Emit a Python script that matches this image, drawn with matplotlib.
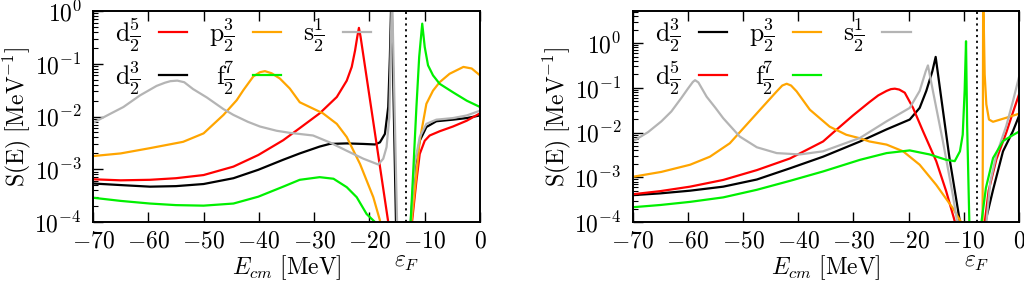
import numpy as np
import matplotlib
matplotlib.use('Agg')
import matplotlib.pyplot as plt
import matplotlib.transforms as mtrans
from matplotlib.ticker import LogLocator, NullFormatter

plt.rcParams['mathtext.fontset'] = 'cm'
plt.rcParams['font.family'] = 'serif'
plt.rcParams['font.serif'] = ['cmr10', 'DejaVu Serif']
plt.rcParams['axes.formatter.use_mathtext'] = True

# ---------------- data (energies in MeV, values given as log10 S(E) in MeV^-1) ----------------
# Left panel
eF_left = -13.3
L_E_d52 = [-70, -65, -59.7, -55, -50, -44.6, -40.1, -35.6, -32.6, -29.0, -25.9, -24.1, -23.2, -22.6, -22.2, -21.9,
           -21.6, -16.6, -16.3, -12.5, -12.3, -11.5, -10.9, -10.0, -9.1, -7.3, -4.9, -2.4, 0]
L_lg_d52 = [-3.19, -3.21, -3.20, -3.17, -3.11, -2.95, -2.73, -2.45, -2.22, -1.94, -1.63, -1.32, -1.06, -0.75, -0.49, -0.32,
            -0.49, -4.0, -5, -5, -4.0, -3.22, -2.71, -2.46, -2.36, -2.28, -2.19, -2.08, -1.94]

L_E_d32 = [-70, -65, -59.7, -55, -50, -44.6, -40.1, -35.6, -32.6, -29.0, -27.2, -24.1, -21.1, -19.0, -18.1, -17.2,
           -16.6, -16.3, -16.1, -16.0, -15.2, -15.0, -12.7, -12.5, -11.8, -10.9, -9.7, -7.9, -4.9, -2.4, 0]
L_lg_d32 = [-3.27, -3.30, -3.33, -3.32, -3.28, -3.17, -3.01, -2.82, -2.70, -2.57, -2.52, -2.51, -2.52, -2.53, -2.49, -2.33,
            -1.82, -0.87, 0.0, 0.3, -4.0, -5, -5, -4.0, -2.96, -2.46, -2.20, -2.09, -2.06, -2.03, -1.98]

L_E_s12 = [-70, -66.9, -64.5, -61.5, -58.5, -57, -56, -54.75, -53.5, -51.9, -49.4, -46.4, -44.6, -42, -39.8, -36.8,
           -34.4, -30.2, -27.2, -24.1, -21.1, -18.4, -17.5, -16.9, -16.4, -16.0, -15.9, -15.0, -14.8, -12.75, -12.55,
           -11.8, -10.9, -9.7, -7.9, -4.9, -2.4, 0]
L_lg_s12 = [-2.12, -1.95, -1.82, -1.60, -1.42, -1.36, -1.33, -1.32, -1.35, -1.48, -1.64, -1.86, -1.97, -2.10, -2.19, -2.27,
            -2.31, -2.36, -2.49, -2.65, -2.80, -2.91, -2.80, -2.58, -2.01, 0.0, 0.3, -4.0, -5, -5, -4.0,
            -2.90, -2.39, -2.14, -2.06, -2.03, -1.98, -1.89]

L_E_p32 = [-70, -65, -59.7, -53.7, -50, -46.4, -44.0, -42.8, -41.0, -39.8, -38.9, -37.7, -36.2, -34.4, -32.6, -30.2,
           -28.4, -25.9, -24.1, -21.7, -19.3, -18.1, -17.8, -12.6, -12.4, -11.5, -10.9, -9.7, -8.5, -7.3, -5.5,
           -3.0, -1.5, 0]
L_lg_p32 = [-2.75, -2.70, -2.60, -2.48, -2.32, -1.97, -1.69, -1.50, -1.24, -1.16, -1.14, -1.18, -1.28, -1.47, -1.73, -1.85,
            -1.94, -2.14, -2.39, -2.90, -3.53, -3.97, -5, -5, -4.0, -3.09, -2.46, -1.76, -1.51, -1.35, -1.19,
            -1.06, -1.09, -1.22]

L_E_f72 = [-70, -65, -59.7, -55, -50, -44.6, -40.1, -35.6, -32.6, -29.0, -26.5, -24.1, -22.3, -20.5, -19.0, -18.7,
           -12.8, -12.55, -12.1, -11.5, -11.0, -10.45, -10.0, -9.4, -8.5, -7.3, -4.9, -2.4, 0]
L_lg_f72 = [-3.54, -3.60, -3.65, -3.68, -3.69, -3.65, -3.52, -3.33, -3.20, -3.15, -3.18, -3.34, -3.53, -3.85, -4.0, -5,
            -5, -4.0, -3.09, -1.82, -0.87, -0.24, -0.68, -1.03, -1.22, -1.38, -1.54, -1.70, -1.82]

# Right panel
eF_right = -7.6
R_E_d32 = [-70, -65, -59.6, -53.6, -47.5, -41.5, -35.5, -28.8, -24, -19.8, -18, -16.8, -15.7, -15.1, -14.1, -12.6,
           -10.7, -10.5, -6.3, -6.1, -4.7, -2.9, -1.1, 0]
R_lg_d32 = [-3.40, -3.36, -3.30, -3.21, -3.05, -2.80, -2.54, -2.20, -1.93, -1.71, -1.45, -1.07, -0.63, -0.31, -1.22, -2.57,
            -4.0, -5, -5, -4.0, -3.28, -2.42, -1.97, -1.63]

R_E_d52 = [-70, -65, -59.6, -53.6, -47.5, -41.5, -35.5, -33.1, -30.1, -28.8, -27.1, -25.5, -24, -23.2, -22.5, -21.7,
           -20.7, -19.2, -17.4, -15, -13.2, -11.6, -11.4, -6.4, -6.2, -5.5, -4.1, -2.3, -1.1, 0]
R_lg_d52 = [-3.38, -3.31, -3.21, -3.06, -2.84, -2.58, -2.20, -1.94, -1.62, -1.49, -1.32, -1.17, -1.07, -1.03, -1.02, -1.04,
            -1.11, -1.45, -1.97, -2.64, -3.31, -4.0, -5, -5, -4.0, -3.3, -2.6, -2.0, -1.55, -1.15]

R_E_p32 = [-70, -64.8, -59.6, -56.0, -52.4, -49.4, -46.4, -43.9, -42.9, -42.1, -41.3, -40.3, -37.9, -34.3, -31.3,
           -28.8, -27.1, -24, -21, -18, -15, -12, -10.5, -10.3, -6.75, -6.6, -6.55, -6.5, -6.45, -6.22, -5.92,
           -5.44, -4.71, -2.3, 0]
R_lg_p32 = [-2.99, -2.88, -2.72, -2.54, -2.24, -1.83, -1.42, -1.08, -0.95, -0.91, -0.95, -1.08, -1.49, -1.87, -2.05,
            -2.13, -2.20, -2.27, -2.42, -2.72, -3.17, -3.69, -4.0, -5, -5, -4.0, -2.0, 0.9, 0.9, -0.70, -1.37,
            -1.71, -1.76, -1.67, -1.58]

R_E_f72 = [-70, -65, -59.6, -53.6, -47.5, -41.5, -35.5, -28.8, -24, -19.8, -16.2, -13.2, -11.65, -10.7, -10.2,
           -9.85, -9.6, -9.4, -9.0, -8.9, -7.0, -6.8, -6.0, -4.7, -2.9, -1, 0]
R_lg_f72 = [-3.67, -3.62, -3.55, -3.45, -3.28, -3.08, -2.87, -2.61, -2.46, -2.40, -2.49, -2.61, -2.64, -2.42, -2.05,
            -1.07, 0.04, -1.82, -4.0, -5, -5, -4.0, -3.24, -2.57, -2.19, -2.05, -1.98]

R_E_s12 = [-70, -67.2, -64.8, -63.0, -61.2, -60.0, -59.1, -58.7, -58.1, -56.6, -55.0, -53.6, -50.6, -47.5, -43.9,
           -39.7, -35.5, -28.8, -24, -19.8, -18, -16.9, -16.5, -15.6, -13.8, -12, -11.2, -11.0, -6.1, -5.9, -5.2,
           -4.1, -2.3, -1.1, 0]
R_lg_s12 = [-2.20, -1.99, -1.75, -1.53, -1.23, -1.02, -0.87, -0.83, -0.88, -1.20, -1.45, -1.68, -2.09, -2.33, -2.46,
            -2.49, -2.42, -2.12, -1.75, -1.45, -1.07, -0.63, -0.50, -1.07, -2.19, -3.39, -4.0, -5, -5, -4.0, -3.1,
            -2.5, -1.85, -1.3, -0.76]

labels = {'d52': r'$\mathrm{d}\frac{5}{2}$', 'd32': r'$\mathrm{d}\frac{3}{2}$',
          'p32': r'$\mathrm{p}\frac{3}{2}$', 'f72': r'$\mathrm{f}\frac{7}{2}$',
          's12': r'$\mathrm{s}\frac{1}{2}$'}
colors = {'d52': '#ff0000', 'd32': '#000000', 'p32': '#ffa500', 'f72': '#00f000', 's12': '#b4b4b4'}

left_series = {'d52': (L_E_d52, L_lg_d52), 'd32': (L_E_d32, L_lg_d32), 'p32': (L_E_p32, L_lg_p32),
               'f72': (L_E_f72, L_lg_f72), 's12': (L_E_s12, L_lg_s12)}
right_series = {'d32': (R_E_d32, R_lg_d32), 'd52': (R_E_d52, R_lg_d52), 'p32': (R_E_p32, R_lg_p32),
                'f72': (R_E_f72, R_lg_f72), 's12': (R_E_s12, R_lg_s12)}

FS = 17
fig = plt.figure(figsize=(10.24, 2.82), dpi=100)
axL = fig.add_axes([93 / 1024, 1 - 222 / 282, 387 / 1024, 211 / 282])
axR = fig.add_axes([632.7 / 1024, 1 - 222 / 282, 386.3 / 1024, 211 / 282])


def draw(ax, series, order, eF, ytop):
    handles = {}
    for key in ['d32', 'd52', 'p32', 's12', 'f72']:
        E, lg = series[key]
        h, = ax.plot(E, 10.0 ** np.asarray(lg), color=colors[key], lw=1.6, label=labels[key])
        handles[key] = h
    ax.axvline(eF, color='k', ls=(0, (1.2, 2.0)), lw=1.3)
    ax.set_yscale('log')
    ax.set_xlim(-70, 0)
    ax.set_ylim(1e-4, ytop)
    ax.set_xticks(list(range(-70, 1, 10)))
    ax.yaxis.set_major_locator(LogLocator(base=10, numticks=12))
    ax.yaxis.set_minor_locator(LogLocator(base=10, subs=np.arange(2, 10), numticks=12))
    ax.yaxis.set_minor_formatter(NullFormatter())
    ax.tick_params(which='both', direction='in', top=True, right=False, labelsize=FS)
    ax.tick_params(which='major', length=7, width=1.0, pad=6)
    ax.tick_params(which='minor', length=3.5, width=0.8)
    ax.tick_params(axis='y', which='major', pad=8)
    for s in ax.spines.values():
        s.set_linewidth(1.4)
    ax.set_xlabel(r'$E_{cm}\ \mathrm{[MeV]}$', fontsize=FS)
    ax.set_ylabel(r'$\mathrm{S(E)\ [MeV^{-1}]}$', fontsize=FS)
    ax.xaxis.set_label_coords(0.5, -0.15)
    ax.yaxis.set_label_coords(-0.155, 0.5)
    tr = mtrans.blended_transform_factory(ax.transData, ax.transAxes)
    ax.text(eF, -0.138, r'$\varepsilon_F$', transform=tr, ha='center', va='top', fontsize=FS)
    ax.legend([handles[k] for k in order], [labels[k] for k in order], ncol=3, frameon=False,
              markerfirst=False, loc='upper left', bbox_to_anchor=(0.058, 0.978), fontsize=18.5,
              handlelength=1.1, handletextpad=0.72, columnspacing=0.85, labelspacing=0.2,
              borderaxespad=0.0, borderpad=0.0)


draw(axL, left_series, ['d52', 'd32', 'p32', 'f72', 's12'], eF_left, 1.0)
draw(axR, right_series, ['d32', 'd52', 'p32', 'f72', 's12'], eF_right, 10 ** 0.716)

fig.savefig('out.png', dpi=100)
